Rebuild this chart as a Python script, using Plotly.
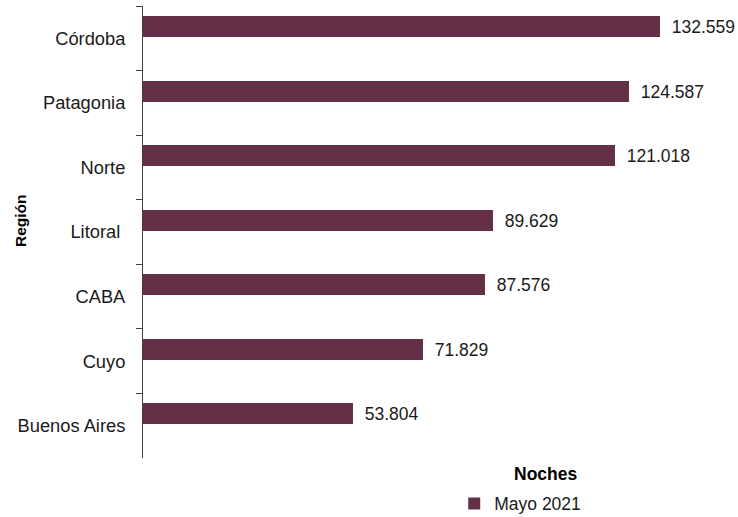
import plotly.graph_objects as go

regiones = ["Córdoba", "Patagonia", "Norte", "Litoral ", "CABA", "Cuyo", "Buenos Aires"]
noches_mayo_2021 = [132559, 124587, 121018, 89629, 87576, 71829, 53804]
serie_nombre = "Mayo 2021"

etiquetas = [f"{v:,}".replace(",", ".") for v in noches_mayo_2021]

FONT = "Liberation Sans, Arial, Helvetica, sans-serif"
BAR_COLOR = "#633047"

fig = go.Figure()
fig.add_trace(go.Bar(
    y=regiones,
    x=noches_mayo_2021,
    orientation="h",
    name=serie_nombre,
    marker=dict(color=BAR_COLOR, line=dict(width=0)),
    width=0.325,
    offset=-0.345,
    text=etiquetas,
    texttemplate="\u2002%{text}",
    textposition="outside",
    textfont=dict(family=FONT, size=17.5, color="#1a1a1a"),
    cliponaxis=False,
    showlegend=True,
))

fig.update_layout(
    width=738, height=517,
    margin=dict(l=143, r=10, t=6, b=59),
    paper_bgcolor="white", plot_bgcolor="white",
    font=dict(family=FONT, size=17.5, color="#1a1a1a"),
    xaxis=dict(visible=False, range=[0, 150000], fixedrange=True),
    yaxis=dict(
        type="category",
        categoryorder="array", categoryarray=regiones,
        range=[6.5, -0.5],
        automargin=False,
        showline=True, linecolor="#404040", linewidth=1,
        ticks="outside", tickson="boundaries", ticklen=6, tickcolor="#404040",
        tickfont=dict(family=FONT, size=18.3, color="#1a1a1a"),
        ticklabelstandoff=13,
        showgrid=False, zeroline=False,
    ),
    showlegend=True,
    legend=dict(
        orientation="h",
        x=0.532, xanchor="left",
        yref="container", y=1 - 503.5 / 517, yanchor="middle",
        bgcolor="rgba(0,0,0,0)",
        font=dict(family=FONT, size=17.5, color="#1a1a1a"),
    ),
    bargap=0,
)

fig.add_annotation(
    text="<b>Noches</b>", xref="paper", yref="paper",
    x=(545 - 143) / 585, y=(458 - 474) / 452,
    xanchor="center", yanchor="middle", showarrow=False,
    font=dict(family=FONT, size=17.5, color="#000000"),
)
fig.add_annotation(
    text="<b>Región</b>", xref="paper", yref="paper",
    x=(20 - 143) / 585, y=(458 - 221) / 452,
    xanchor="center", yanchor="middle", showarrow=False, textangle=-90,
    font=dict(family=FONT, size=15.5, color="#000000"),
)

fig.write_html(
    "out.html",
    config={"displayModeBar": False},
    post_script="document.body.style.margin='0';",
)
